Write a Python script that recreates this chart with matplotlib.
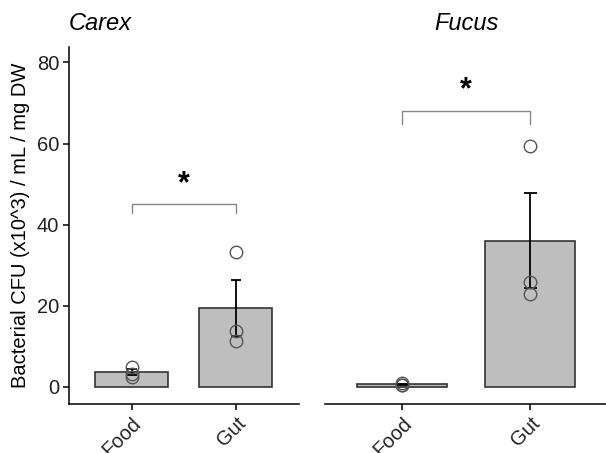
import numpy as np
import matplotlib.pyplot as plt

plt.rcParams["font.family"] = ["Liberation Sans", "DejaVu Sans"]

panels = ["Carex", "Fucus"]
groups = ["Food", "Gut"]

# individual replicate values per panel/group
carex_food = [5.0, 3.3, 2.5]
carex_gut = [33.2, 13.8, 11.4]
fucus_food = [1.0, 0.6, 0.4]
fucus_gut = [59.4, 25.9, 22.9]

# significance bracket: height of bar, drop of ends, star height
carex_sig = (45.1, 42.8, 50.0)
fucus_sig = (68.0, 64.8, 73.2)

data = {
    "Carex": [carex_food, carex_gut],
    "Fucus": [fucus_food, fucus_gut],
}
sig = {"Carex": carex_sig, "Fucus": fucus_sig}

fig = plt.figure(figsize=(6.06, 4.53), dpi=100)
ax_l = fig.add_axes([69 / 606, 49 / 453, 229.5 / 606, 357 / 453])
ax_r = fig.add_axes([325 / 606, 49 / 453, 282 / 606, 357 / 453])

for ax, name in zip([ax_l, ax_r], panels):
    x = np.arange(1, len(groups) + 1)
    vals = data[name]
    means = [np.mean(v) for v in vals]
    ses = [np.std(v, ddof=1) / np.sqrt(len(v)) for v in vals]

    ax.bar(x, means, width=0.7, color="#bebebe", edgecolor="#333333",
           linewidth=1.2, zorder=2)
    for xi, m, s in zip(x, means, ses):
        ax.vlines(xi, m - s, m + s, color="black", linewidth=1.3, zorder=3)
        ax.hlines([m - s, m + s], xi - 0.05, xi + 0.05, color="black",
                  linewidth=1.3, zorder=3)
        ax.plot([xi] * 3, vals[xi - 1], linestyle="none", marker="o",
                markersize=9, markerfacecolor="none",
                markeredgecolor="#555555", markeredgewidth=1.0, zorder=4)

    top, drop, star = sig[name]
    ax.plot([1, 1, 2, 2], [drop, top, top, drop], color="#888888",
            linewidth=1.0, zorder=1)
    ax.text(1.5, star, "*", ha="center", va="center", fontsize=22,
            fontweight="bold")

    ax.set_xlim(0.4, 2.6)
    ax.set_ylim(-4.2, 83.8)
    ax.set_xticks(x)
    ax.set_xticklabels(groups, rotation=45, ha="right", va="top",
                       rotation_mode="anchor", fontsize=14.5, color="#222222")
    ax.spines["top"].set_visible(False)
    ax.spines["right"].set_visible(False)
    ax.spines["bottom"].set_linewidth(1.1)
    ax.tick_params(axis="x", length=4, width=1.1, pad=3)

ax_l.spines["left"].set_linewidth(1.1)
ax_l.set_yticks([0, 20, 40, 60, 80])
ax_l.tick_params(axis="y", length=4, width=1.1, labelsize=14.5,
                 labelcolor="#222222", pad=3)
ax_l.set_ylabel("Bacterial CFU (x10^3) / mL / mg DW", fontsize=14.5,
                labelpad=5)

ax_r.spines["left"].set_visible(False)
ax_r.set_yticks([])

fig.text(69 / 606, 1 - 24 / 453, "Carex", fontsize=17, style="italic",
         ha="left", va="center")
fig.text(466 / 606, 1 - 24 / 453, "Fucus", fontsize=17, style="italic",
         ha="center", va="center")

fig.savefig("out.png", dpi=100, facecolor="white")
